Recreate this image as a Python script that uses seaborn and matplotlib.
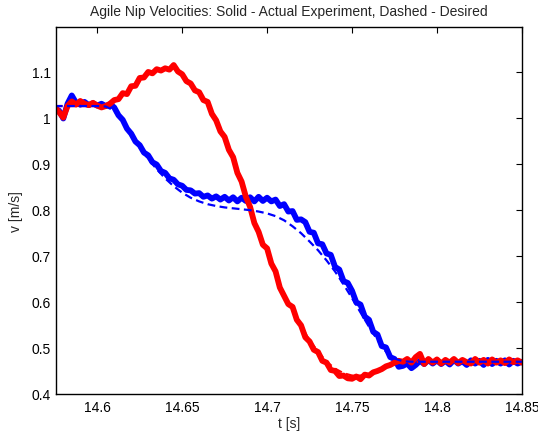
import numpy as np
import pandas as pd
import matplotlib
matplotlib.use("Agg")
import matplotlib.pyplot as plt
import seaborn as sns

# ---------------- data ----------------
t_start, t_step_actual, t_step_desired = 14.575, 0.0025, 0.005

blue_actual = [
    1.020, 1.015, 0.998, 1.030, 1.048, 1.032, 1.028, 1.034, 1.027, 1.031,
    1.026, 1.030, 1.025, 1.029, 1.022, 1.005, 0.995, 0.976, 0.965, 0.948,
    0.940, 0.924, 0.918, 0.903, 0.898, 0.884, 0.880, 0.868, 0.865, 0.855,
    0.852, 0.843, 0.842, 0.835, 0.836, 0.828, 0.831, 0.824, 0.829, 0.822,
    0.828, 0.820, 0.827, 0.818, 0.826, 0.819, 0.827, 0.818, 0.828, 0.819,
    0.826, 0.818, 0.822, 0.808, 0.812, 0.796, 0.797, 0.778, 0.779, 0.773,
    0.752, 0.750, 0.727, 0.725, 0.705, 0.702, 0.676, 0.670, 0.645, 0.641,
    0.624, 0.599, 0.594, 0.568, 0.561, 0.535, 0.529, 0.504, 0.501, 0.480,
    0.476, 0.459, 0.461, 0.466, 0.456, 0.463, 0.472, 0.465, 0.474, 0.466,
    0.473, 0.465, 0.472, 0.464, 0.474, 0.466, 0.471, 0.463, 0.473, 0.466,
    0.472, 0.463, 0.474, 0.465, 0.472, 0.466, 0.473, 0.464, 0.472, 0.466,
    0.470,
]

red_actual = [
    1.022, 1.012, 1.000, 1.025, 1.035, 1.028, 1.036, 1.030, 1.027, 1.032,
    1.026, 1.022, 1.025, 1.030, 1.038, 1.040, 1.053, 1.051, 1.068, 1.069,
    1.086, 1.087, 1.099, 1.096, 1.105, 1.102, 1.107, 1.104, 1.114, 1.100,
    1.094, 1.079, 1.074, 1.059, 1.055, 1.038, 1.034, 1.008, 0.994, 0.970,
    0.958, 0.930, 0.914, 0.880, 0.861, 0.828, 0.806, 0.771, 0.752, 0.724,
    0.716, 0.683, 0.666, 0.631, 0.613, 0.595, 0.589, 0.561, 0.549, 0.523,
    0.514, 0.496, 0.491, 0.472, 0.468, 0.452, 0.450, 0.439, 0.440, 0.434,
    0.433, 0.438, 0.432, 0.442, 0.440, 0.447, 0.450, 0.454, 0.460, 0.463,
    0.468, 0.472, 0.470, 0.476, 0.468, 0.480, 0.487, 0.465, 0.476, 0.468,
    0.475, 0.466, 0.474, 0.468, 0.476, 0.467, 0.474, 0.469, 0.466, 0.476,
    0.468, 0.474, 0.466, 0.475, 0.468, 0.473, 0.467, 0.475, 0.469, 0.473,
    0.468,
]

blue_desired = [
    1.025, 1.025, 1.025, 1.025, 1.025, 1.025, 1.024, 1.015, 0.990, 0.962,
    0.935, 0.910, 0.888, 0.868, 0.851, 0.837, 0.826, 0.818, 0.812, 0.808,
    0.805, 0.803, 0.801, 0.799, 0.796, 0.792, 0.786, 0.777, 0.764, 0.749,
    0.731, 0.712, 0.690, 0.666, 0.638, 0.608, 0.577, 0.546, 0.517, 0.492,
    0.477, 0.471, 0.470, 0.470, 0.470, 0.470, 0.470, 0.470, 0.470, 0.470,
    0.470, 0.470, 0.470, 0.470, 0.470, 0.470,
]

red_desired = [
    1.025, 1.025, 1.025, 1.025, 1.025, 1.025, 1.025, 1.035, 1.048, 1.063,
    1.080, 1.094, 1.103, 1.107, 1.107, 1.095, 1.073, 1.052, 1.030, 0.995,
    0.955, 0.910, 0.858, 0.805, 0.752, 0.710, 0.662, 0.615, 0.582, 0.548,
    0.516, 0.492, 0.470, 0.455, 0.445, 0.440, 0.440, 0.443, 0.450, 0.458,
    0.465, 0.470, 0.470, 0.470, 0.470, 0.470, 0.470, 0.470, 0.470, 0.470,
    0.470, 0.470, 0.470, 0.470, 0.470, 0.470,
]

x_ticks = [14.6, 14.65, 14.7, 14.75, 14.8, 14.85]
x_tick_labels = ["14.6", "14.65", "14.7", "14.75", "14.8", "14.85"]
y_ticks = [0.4, 0.5, 0.6, 0.7, 0.8, 0.9, 1.0, 1.1]
y_tick_labels = ["0.4", "0.5", "0.6", "0.7", "0.8", "0.9", "1", "1.1"]

title = "Agile Nip Velocities: Solid - Actual Experiment, Dashed - Desired"
x_label = "t [s]"
y_label = "v [m/s]"

t_actual = t_start + t_step_actual * np.arange(len(blue_actual))
t_desired = t_start + t_step_desired * np.arange(len(blue_desired))

df_ba = pd.DataFrame({"t": t_actual, "v": blue_actual})
df_ra = pd.DataFrame({"t": t_actual, "v": red_actual})
df_bd = pd.DataFrame({"t": t_desired, "v": blue_desired})
df_rd = pd.DataFrame({"t": t_desired, "v": red_desired})

# ---------------- style ----------------
sns.set_style("white")
plt.rcParams["font.family"] = ["Liberation Sans", "DejaVu Sans"]
plt.rcParams["font.size"] = 10

fig = plt.figure(figsize=(5.38, 4.35), dpi=100)
ax = fig.add_axes([0.105, 0.092, 0.865, 0.843])

lw_actual = 4.2
lw_desired = 1.6
sns.lineplot(data=df_ba, x="t", y="v", ax=ax, color=(0, 0, 1), lw=lw_actual,
             estimator=None, sort=False)
sns.lineplot(data=df_ra, x="t", y="v", ax=ax, color=(1, 0, 0), lw=lw_actual,
             estimator=None, sort=False)
sns.lineplot(data=df_rd, x="t", y="v", ax=ax, color=(1, 0, 0), lw=lw_desired,
             estimator=None, sort=False, linestyle=(0, (3.5, 2)))
sns.lineplot(data=df_bd, x="t", y="v", ax=ax, color=(0, 0, 1), lw=lw_desired,
             estimator=None, sort=False, linestyle=(0, (3.5, 2)))

ax.set_xlim(14.576, 14.85)
ax.set_ylim(0.4, 1.196)
ax.set_xticks(x_ticks)
ax.set_xticklabels(x_tick_labels)
ax.set_yticks(y_ticks)
ax.set_yticklabels(y_tick_labels)
ax.tick_params(direction="in", length=4, width=0.8, top=True, right=True,
               labelsize=10, colors="black", pad=4)
for s in ax.spines.values():
    s.set_visible(True)
    s.set_color("black")
    s.set_linewidth(1.0)

ax.set_title(title, fontsize=10, pad=9)
ax.set_xlabel(x_label, fontsize=10, labelpad=2)
ax.set_ylabel(y_label, fontsize=10, labelpad=6)

fig.savefig("out.png", dpi=100, facecolor="white")
